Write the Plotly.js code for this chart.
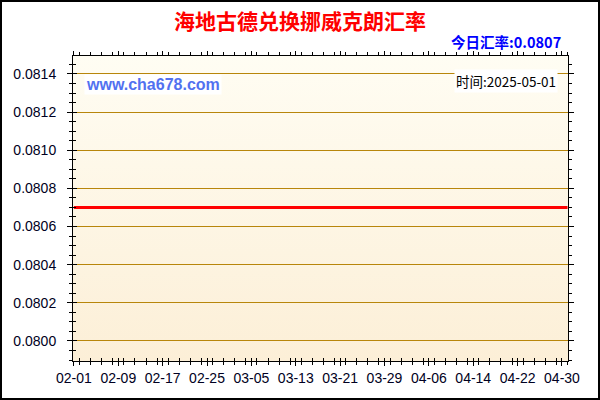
<!DOCTYPE html>
<html>
<head>
<meta charset="utf-8">
<script src="https://cdn.plot.ly/plotly-3.0.1.min.js"></script>
<style>
  html, body { margin: 0; padding: 0; background: #fff; }
  #wrap { position: relative; width: 600px; height: 400px; }
  #bg { position: absolute; left: 73px; top: 56px; width: 495px; height: 305px;
        background: linear-gradient(to bottom, #fffdf3, #fcefd7); }
  #frame { position: absolute; left: 0; top: 0; width: 596px; height: 396px; border: 2px solid #000; pointer-events: none; }
  #chart { position: absolute; left: 0; top: 0; width: 600px; height: 400px; }
</style>
</head>
<body>
<div id="wrap">
  <div id="bg"></div>
  <div id="chart"></div>
  <div id="frame"></div>
</div>
<script>
// 海地古德 -> 挪威克朗, daily from 2025-02-01 to 2025-05-01
var startDate = '2025-02-01'
var rates = [
  0.0807, 0.0807, 0.0807, 0.0807, 0.0807, 0.0807, 0.0807, 0.0807, 0.0807, 0.0807,
  0.0807, 0.0807, 0.0807, 0.0807, 0.0807, 0.0807, 0.0807, 0.0807, 0.0807, 0.0807,
  0.0807, 0.0807, 0.0807, 0.0807, 0.0807, 0.0807, 0.0807, 0.0807, 0.0807, 0.0807,
  0.0807, 0.0807, 0.0807, 0.0807, 0.0807, 0.0807, 0.0807, 0.0807, 0.0807, 0.0807,
  0.0807, 0.0807, 0.0807, 0.0807, 0.0807, 0.0807, 0.0807, 0.0807, 0.0807, 0.0807,
  0.0807, 0.0807, 0.0807, 0.0807, 0.0807, 0.0807, 0.0807, 0.0807, 0.0807, 0.0807,
  0.0807, 0.0807, 0.0807, 0.0807, 0.0807, 0.0807, 0.0807, 0.0807, 0.0807, 0.0807,
  0.0807, 0.0807, 0.0807, 0.0807, 0.0807, 0.0807, 0.0807, 0.0807, 0.0807, 0.0807,
  0.0807, 0.0807, 0.0807, 0.0807, 0.0807, 0.0807, 0.0807, 0.0807, 0.0807, 0.0807
]
var titleText = '海地古德兑换挪威克朗汇率'
var todayText = '今日汇率:0.0807'
var siteText = 'www.cha678.com'
var timeText = '时间:2025-05-01'

var dates = []
var d0 = new Date(startDate + 'T00:00:00Z')
for (var i = 0; i < rates.length; i++) {
    var d = new Date(d0.getTime() + i * 86400000)
    dates.push(d.toISOString().slice(0, 10))
}

var DAY = 86400000
var labelFont = {family: 'Liberation Sans, Arial, sans-serif', size: 14, color: '#000022'}
var xRange = ['2025-01-31 20:00', '2025-05-01 02:00']
var yRange = [0.079895, 0.081494]

var trace = {
    x: dates,
    y: rates,
    type: 'scatter',
    mode: 'lines',
    line: {color: '#ff0000', width: 3},
    hoverinfo: 'skip'
}

var layout = {
    width: 600,
    height: 400,
    margin: {l: 73, r: 32, t: 56, b: 39},
    paper_bgcolor: 'rgba(0,0,0,0)',
    plot_bgcolor: 'rgba(0,0,0,0)',
    showlegend: false,
    title: {
        text: '<b>' + titleText + '</b>',
        font: {family: 'Noto Sans CJK SC, sans-serif', size: 21, color: '#ff0000'},
        x: 0.5, xanchor: 'center',
        yref: 'container', y: 0.945, yanchor: 'middle'
    },
    xaxis: {
        type: 'date',
        range: xRange,
        tick0: startDate,
        dtick: 8 * DAY,
        tickformat: '%m-%d',
        ticks: 'outside',
        ticklen: 4,
        tickcolor: '#000',
        tickfont: labelFont,
        showgrid: false,
        zeroline: false,
        showline: true,
        linecolor: '#000',
        linewidth: 1,
        mirror: 'ticks',
        minor: {dtick: 2 * DAY, ticks: 'outside', ticklen: 3, tickcolor: '#000', showgrid: false}
    },
    xaxis2: {
        type: 'date',
        overlaying: 'x',
        range: xRange,
        tick0: startDate,
        dtick: 8 * DAY,
        ticks: 'inside',
        ticklen: 3,
        tickcolor: '#000',
        showticklabels: false,
        showgrid: false,
        zeroline: false,
        minor: {dtick: 2 * DAY, ticks: 'inside', ticklen: 3, tickcolor: '#000', showgrid: false}
    },
    yaxis: {
        range: yRange,
        dtick: 0.0002,
        tick0: 0.08,
        tickformat: '.4f',
        ticks: 'outside',
        ticklen: 5,
        tickcolor: '#000',
        tickfont: labelFont,
        ticklabelstandoff: 8,
        showgrid: true,
        gridcolor: '#b8860b',
        gridwidth: 1,
        zeroline: false,
        showline: true,
        linecolor: '#000',
        linewidth: 1,
        mirror: 'ticks',
        minor: {dtick: 0.00005, ticks: 'outside', ticklen: 3, tickcolor: '#000', showgrid: false}
    },
    yaxis2: {
        overlaying: 'y',
        range: yRange,
        dtick: 0.0002,
        tick0: 0.08,
        ticks: 'inside',
        ticklen: 4,
        tickcolor: '#000',
        showticklabels: false,
        showgrid: false,
        zeroline: false,
        minor: {dtick: 0.00005, ticks: 'inside', ticklen: 3, tickcolor: '#000', showgrid: false}
    },
    annotations: [
        {
            text: '<b>' + todayText + '</b>',
            xref: 'paper', yref: 'paper', x: 0.99, y: 1.046,
            xanchor: 'right', yanchor: 'middle', showarrow: false,
            font: {family: 'Noto Sans CJK SC, sans-serif', size: 14.5, color: '#0000ff'}
        },
        {
            text: '<b>' + siteText + '</b>',
            xref: 'paper', yref: 'paper', x: 0.022, y: 0.905,
            xanchor: 'left', yanchor: 'middle', showarrow: false,
            bgcolor: '#ffffff',
            font: {family: 'Liberation Sans, Arial, sans-serif', size: 16, color: '#5271f0'}
        },
        {
            text: timeText,
            xref: 'paper', yref: 'paper', x: 0.98, y: 0.918,
            xanchor: 'right', yanchor: 'middle', showarrow: false,
            bgcolor: '#ffffff',
            font: {family: 'Noto Sans CJK SC, DejaVu Sans, sans-serif', size: 13.5, color: '#000000'}
        }
    ]
}

// helper trace so the overlay axes get drawn
var axisTrace = {x: [dates[0]], y: [rates[0]], xaxis: 'x2', yaxis: 'y2', type: 'scatter', mode: 'none', hoverinfo: 'skip'}

Plotly.newPlot('chart', [trace, axisTrace], layout, {displayModeBar: false, staticPlot: true})
</script>
</body>
</html>
